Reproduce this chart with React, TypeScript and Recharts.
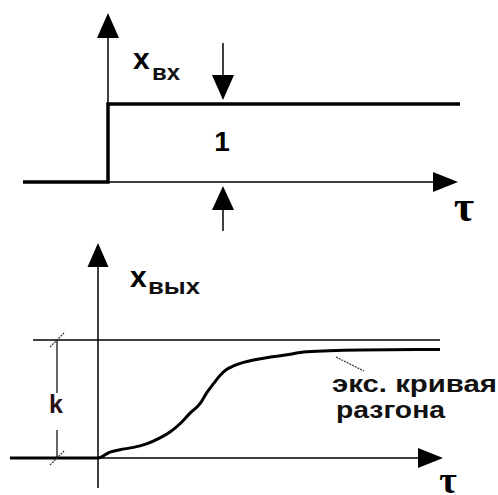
import React from 'react';
import { LineChart, Line, XAxis, YAxis, ReferenceLine, ReferenceDot } from 'recharts';

// ---------- data: input step x_вх(τ) ----------
const inputTau = [-1.7, 0, 0, 7.04];
const inputX = [0, 0, 1, 1];

// ---------- data: output acceleration curve x_вых(τ) ----------
const outputTau = [-1.76, 0, 0.24, 0.44, 0.71, 0.97, 1.24, 1.44, 1.64, 1.84, 2.04, 2.17, 2.31, 2.44, 2.57, 2.71, 2.91, 3.11, 3.37, 3.71, 4.17, 5.24, 6.84];
const outputX = [0, 0, 0.05, 0.07, 0.09, 0.12, 0.17, 0.22, 0.29, 0.38, 0.46, 0.55, 0.63, 0.7, 0.75, 0.78, 0.81, 0.83, 0.85, 0.87, 0.9, 0.915, 0.92];

// gain level k (normalized)
const kLevel = 1;

// axis extents (data units)
const topTauDomain: [number, number] = [-2.16, 7.8];
const topXDomain: [number, number] = [-0.744, 2.333];
const botTauDomain: [number, number] = [-1.96, 8];
const botXDomain: [number, number] = [-0.3136, 1.8475];

const topAxisTop = 2.167;
const topAxisRight = 7.0;
const dimTau = 2.3;
const downArrowFrom = 1.782;
const downArrowTo = 1.05;
const upArrowFrom = -0.628;
const upArrowTo = -0.051;

const botAxisBottom = -0.254;
const botAxisTop = 1.822;
const botAxisLeft = -1.76;
const botAxisRight = 6.9;
const kLineLeft = -1.3;
const kLineRight = 6.84;
const kDimTau = -0.82;
const kGapTop = 0.55;
const kGapBottom = 0.237;
const leaderFrom = { t: 4.76, x: 0.856 };
const leaderTo = { t: 5.32, x: 0.737 };

// labels (anchors in data units)
const topLabels = {
  xin: { t: 0.5, x: 1.449, main: 'x', sub: 'вх' },
  one: { t: 2.28, x: 0.397, text: '1' },
  tau: { t: 7.12, x: -0.5, text: 'τ' },
};
const botLabels = {
  xout: { t: 0.64, x: 1.449, main: 'x', sub: 'вых' },
  k: { t: -0.84, x: 0.381, text: 'k' },
  line1: { t: 4.68, x: 0.56, text: 'экс. кривая' },
  line2: { t: 4.76, x: 0.339, text: 'разгона' },
  tau: { t: 7.0, x: -0.297, text: 'τ' },
};

const inputData = inputTau.map((t, i) => ({ t, v: inputX[i] }));
const outputData = outputTau.map((t, i) => ({ t, v: outputX[i] }));

const SANS = 'Arial, "Liberation Sans", sans-serif';
const SERIF = '"Liberation Serif", "Times New Roman", serif';

const arrowShape = (len: number, half: number, width: number) => (p: any) => {
  const { x1, y1, x2, y2 } = p;
  const dx = x2 - x1;
  const dy = y2 - y1;
  const d = Math.hypot(dx, dy) || 1;
  const ux = dx / d;
  const uy = dy / d;
  const bx = x2 - ux * len;
  const by = y2 - uy * len;
  const px = -uy * half;
  const py = ux * half;
  return (
    <g>
      <line x1={x1} y1={y1} x2={bx + ux} y2={by + uy} stroke="#000" strokeWidth={width} />
      <polygon points={`${x2},${y2} ${bx + px},${by + py} ${bx - px},${by - py}`} fill="#000" />
    </g>
  );
};

const plainLine = (width: number, dash?: string, color = '#000') => (p: any) => (
  <line x1={p.x1} y1={p.y1} x2={p.x2} y2={p.y2} stroke={color} strokeWidth={width} strokeDasharray={dash} />
);

const slashShape = (p: any) => (
  <line x1={p.cx - 7} y1={p.cy + 7} x2={p.cx + 7} y2={p.cy - 7} stroke="#333" strokeWidth={1.2} strokeDasharray="2 1" />
);

const textShape =
  (text: string, opts: { size: number; weight?: any; family?: string; anchor?: string; len?: number; color?: string }) =>
  (p: any) => (
    <text
      x={p.cx}
      y={p.cy}
      fontSize={opts.size}
      fontWeight={opts.weight ?? 'normal'}
      fontFamily={opts.family ?? SANS}
      textAnchor={(opts.anchor as any) ?? 'start'}
      fill={opts.color ?? '#000'}
      textLength={opts.len}
      lengthAdjust={opts.len ? 'spacingAndGlyphs' : undefined}
    >
      {text}
    </text>
  );

const subShape = (main: string, sub: string, size: number, subSize: number, dy: number, subLen: number, gap: number) => (p: any) => (
  <g>
    <text x={p.cx} y={p.cy} fontSize={size} fontWeight="bold" fontFamily={SANS} fill="#000">
      {main}
    </text>
    <text
      x={p.cx + gap}
      y={p.cy + dy}
      fontSize={subSize}
      fontWeight="bold"
      fontFamily={SANS}
      fill="#111"
      textLength={subLen}
      lengthAdjust="spacingAndGlyphs"
    >
      {sub}
    </text>
  </g>
);

function TopChart() {
  return (
    <LineChart width={498} height={240} data={inputData} margin={{ top: 0, right: 0, bottom: 0, left: 0 }} style={{ overflow: 'visible' }}>
      <XAxis dataKey="t" type="number" domain={topTauDomain} hide allowDataOverflow />
      <YAxis type="number" domain={topXDomain} hide allowDataOverflow />
      <ReferenceLine ifOverflow="visible" segment={[{ x: 0, y: 0 }, { x: 0, y: topAxisTop }]} shape={arrowShape(25, 11, 1.5)} />
      <ReferenceLine ifOverflow="visible" segment={[{ x: 0, y: 0 }, { x: topAxisRight, y: 0 }]} shape={arrowShape(25, 10, 1.5)} />
      <ReferenceLine ifOverflow="visible" segment={[{ x: dimTau, y: downArrowFrom }, { x: dimTau, y: downArrowTo }]} shape={arrowShape(25, 11, 1.5)} />
      <ReferenceLine ifOverflow="visible" segment={[{ x: dimTau, y: upArrowFrom }, { x: dimTau, y: upArrowTo }]} shape={arrowShape(24, 11, 1.5)} />
      <Line dataKey="v" type="linear" stroke="#000" strokeWidth={3.5} dot={false} activeDot={false} isAnimationActive={false} />
      <ReferenceDot ifOverflow="visible" x={topLabels.xin.t} y={topLabels.xin.x} shape={subShape(topLabels.xin.main, topLabels.xin.sub, 30, 22, 11, 28, 19)} />
      <ReferenceDot ifOverflow="visible" x={topLabels.one.t} y={topLabels.one.x} shape={textShape(topLabels.one.text, { size: 28, weight: 'bold', anchor: 'middle' })} />
      <ReferenceDot ifOverflow="visible" x={topLabels.tau.t} y={topLabels.tau.x} shape={textShape(topLabels.tau.text, { size: 44, weight: 'bold', family: SERIF, anchor: 'middle' })} />
    </LineChart>
  );
}

function BottomChart() {
  return (
    <LineChart width={498} height={255} data={outputData} margin={{ top: 0, right: 0, bottom: 0, left: 0 }} style={{ overflow: 'visible' }}>
      <XAxis dataKey="t" type="number" domain={botTauDomain} hide allowDataOverflow />
      <YAxis type="number" domain={botXDomain} hide allowDataOverflow />
      <ReferenceLine ifOverflow="visible" segment={[{ x: 0, y: botAxisBottom }, { x: 0, y: botAxisTop }]} shape={arrowShape(24, 10.5, 1.5)} />
      <ReferenceLine ifOverflow="visible" segment={[{ x: botAxisLeft, y: 0 }, { x: botAxisRight, y: 0 }]} shape={arrowShape(25, 10, 1.5)} />
      <ReferenceLine ifOverflow="visible" segment={[{ x: kLineLeft, y: kLevel }, { x: kLineRight, y: kLevel }]} shape={plainLine(1.5)} />
      <ReferenceLine ifOverflow="visible" segment={[{ x: kDimTau, y: kLevel }, { x: kDimTau, y: kGapTop }]} shape={plainLine(1.2)} />
      <ReferenceLine ifOverflow="visible" segment={[{ x: kDimTau, y: kGapBottom }, { x: kDimTau, y: 0 }]} shape={plainLine(1.2)} />
      <ReferenceLine ifOverflow="visible" segment={[{ x: leaderFrom.t, y: leaderFrom.x }, { x: leaderTo.t, y: leaderTo.x }]} shape={plainLine(1.2, '2 1', '#333')} />
      <ReferenceDot ifOverflow="visible" x={kDimTau} y={kLevel} shape={slashShape} />
      <ReferenceDot ifOverflow="visible" x={kDimTau} y={0} shape={slashShape} />
      <Line dataKey="v" type="monotone" stroke="#000" strokeWidth={3} dot={false} activeDot={false} isAnimationActive={false} />
      <ReferenceDot ifOverflow="visible" x={botLabels.xout.t} y={botLabels.xout.x} shape={subShape(botLabels.xout.main, botLabels.xout.sub, 30, 22, 7, 52, 18)} />
      <ReferenceDot ifOverflow="visible" x={botLabels.k.t} y={botLabels.k.x} shape={textShape(botLabels.k.text, { size: 25, weight: 'bold', anchor: 'middle', color: '#2a1016' })} />
      <ReferenceDot ifOverflow="visible" x={botLabels.line1.t} y={botLabels.line1.x} shape={textShape(botLabels.line1.text, { size: 23, weight: 'bold', len: 165, color: '#111' })} />
      <ReferenceDot ifOverflow="visible" x={botLabels.line2.t} y={botLabels.line2.x} shape={textShape(botLabels.line2.text, { size: 23, weight: 'bold', len: 109, color: '#111' })} />
      <ReferenceDot ifOverflow="visible" x={botLabels.tau.t} y={botLabels.tau.x} shape={textShape(botLabels.tau.text, { size: 38, weight: 'bold', family: SERIF, anchor: 'middle' })} />
    </LineChart>
  );
}

export default function App() {
  return (
    <div style={{ position: 'absolute', left: 0, top: 0, width: 498, height: 495, background: '#fff', overflow: 'hidden' }}>
      <div style={{ position: 'absolute', left: 0, top: 0 }}>
        <TopChart />
      </div>
      <div style={{ position: 'absolute', left: 0, top: 240 }}>
        <BottomChart />
      </div>
    </div>
  );
}
